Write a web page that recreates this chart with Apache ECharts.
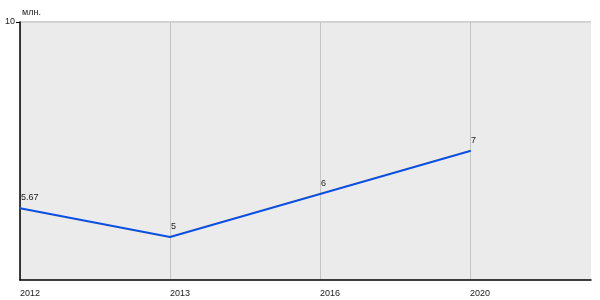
<!DOCTYPE html>
<html><head><meta charset="utf-8">
<script src="https://cdn.jsdelivr.net/npm/echarts@6/dist/echarts.min.js"></script>
<style>html,body{margin:0;padding:0;background:#fff}#c{width:600px;height:300px}</style>
</head><body><div id="c"></div>
<script>
const categories = ['2012', '2013', '2016', '2020'];
const values = [5.67, 5, 6, 7];
const valueLabels = ['5.67', '5', '6', '7'];
const yMin = 4, yMax = 10;
const unitName = 'млн.';

const chart = echarts.init(document.getElementById('c'), null, {renderer: 'canvas'});
const font = 'Liberation Sans, Arial, sans-serif';
chart.setOption({
  animation: false,
  grid: {left: 20, top: 22, right: 9, bottom: 20, show: true, backgroundColor: '#ebebeb', borderWidth: 0},
  xAxis: {
    type: 'value', min: 0, max: 571 / 150, interval: 1,
    axisLine: {lineStyle: {color: '#000', width: 1.5}},
    axisTick: {show: false},
    splitLine: {show: true, showMaxLine: false, lineStyle: {color: '#c4c4c4', width: 1}},
    axisLabel: {
      color: '#222', fontFamily: font, fontSize: 9, align: 'left', margin: 9,
      showMaxLabel: false,
      formatter: v => (Number.isInteger(v) && categories[v] !== undefined) ? categories[v] : ''
    }
  },
  yAxis: {
    type: 'value', min: yMin, max: yMax, interval: yMax - yMin,
    name: unitName, nameLocation: 'end', nameGap: 5,
    nameTextStyle: {color: '#222', fontFamily: font, fontSize: 9, align: 'left', padding: [0, 0, 0, 2]},
    axisLine: {show: true, lineStyle: {color: '#000', width: 1.5}},
    axisTick: {show: true, length: 4, inside: false, lineStyle: {color: '#000'}, customValues: [yMax]},
    splitLine: {show: true, lineStyle: {color: '#d2d2d2', width: 2}},
    axisLabel: {color: '#222', fontFamily: font, fontSize: 9, margin: 5, showMinLabel: false,
      formatter: v => v === yMax ? String(v) : '', verticalAlign: 'middle', padding: [0, 0, 4, 0]}
  },
  series: [{
    type: 'line',
    data: values.map((v, i) => [i, v]),
    symbol: 'circle', symbolSize: 2, showSymbol: true,
    lineStyle: {color: '#0a4fe0', width: 2},
    itemStyle: {color: '#0a4fe0', borderWidth: 0},
    label: {
      show: true, position: 'top', align: 'left', distance: 5, offset: [1, 0],
      color: '#222', fontFamily: font, fontSize: 9,
      formatter: p => valueLabels[p.dataIndex]
    }
  }]
});
</script></body></html>
